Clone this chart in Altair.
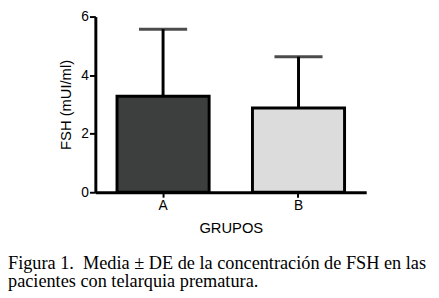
import altair as alt
import pandas as pd

groups = ["A", "B"]
means = [3.28, 2.88]
sds = [2.29, 1.75]
fills = ["#3d3f3e", "#dcdcdc"]

df = pd.DataFrame({"grupo": groups, "media": means, "sd": sds, "fill": fills})
df["top"] = df["media"] + df["sd"]

x = alt.X("grupo:N", title="GRUPOS",
          scale=alt.Scale(paddingInner=0.32, paddingOuter=0.16),
          axis=alt.Axis(labelAngle=0, domainWidth=3, tickWidth=2, tickSize=5,
                        labelFontSize=14, titleFontSize=15, labelPadding=2, titlePadding=8))
y = alt.Y("media:Q", title="FSH (mUI/ml)",
          scale=alt.Scale(domain=[0, 6]),
          axis=alt.Axis(values=[0, 2, 4, 6], domainWidth=3, tickWidth=2, tickSize=6,
                        labelFontSize=14, titleFontSize=15, labelPadding=1, titlePadding=8,
                        grid=False))

base = alt.Chart(df)

err = base.mark_rule(color="black", strokeWidth=3).encode(x=x, y=y, y2="top:Q")
cap = base.mark_tick(color="black", thickness=3, size=49, orient="horizontal").encode(
    x=x, y=alt.Y("top:Q"))
bars = base.mark_bar(stroke="black", strokeWidth=3).encode(
    x=x, y=y, fill=alt.Fill("fill:N", scale=None))

chart = alt.layer(err, cap, bars).properties(
    width=276, height=179,
    title=alt.TitleParams(
        text=["Figura 1.\u00a0 Media ± DE de la concentración de FSH en las",
              "pacientes con telarquia prematura."],
        orient="bottom", anchor="start", frame="group", dx=-89, offset=19,
        font="Liberation Serif", fontSize=18.6, fontWeight="normal", lineHeight=19,
        color="black"),
    autosize=alt.AutoSizeParams(type="none"),
    padding={"left": 89, "top": 6, "right": 66, "bottom": 105},
).configure_axis(
    labelFont="Liberation Sans", titleFont="Liberation Sans", labelColor="black",
    titleColor="black", domainColor="black", tickColor="black", titleFontWeight="normal"
).configure_view(stroke=None)

chart.save("out.html", embed_options={"renderer": "svg", "actions": False})
